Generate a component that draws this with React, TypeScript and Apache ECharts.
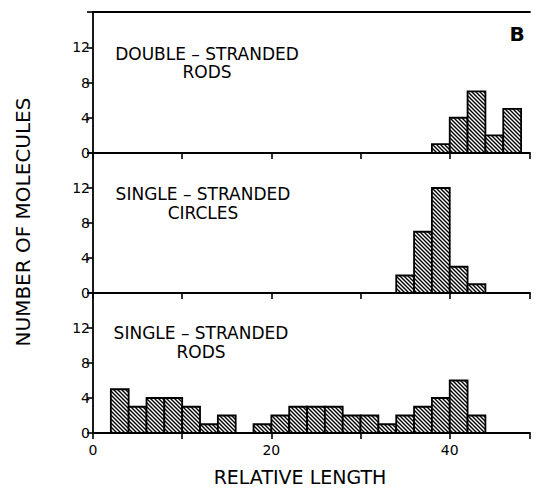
import React, { useEffect, useRef } from "react";
import * as echarts from "echarts";

// ---- Data (bin starts in relative length units, bin width 2) ----
const binWidth = 2;
const dsRodsStarts = [38, 40, 42, 44, 46];
const dsRodsCounts = [1, 4, 7, 2, 5];
const ssCirclesStarts = [34, 36, 38, 40, 42];
const ssCirclesCounts = [2, 7, 12, 3, 1];
const ssRodsStarts = [2, 4, 6, 8, 10, 12, 14, 16, 18, 20, 22, 24, 26, 28, 30, 32, 34, 36, 38, 40, 42];
const ssRodsCounts = [5, 3, 4, 4, 3, 1, 2, 0, 1, 2, 3, 3, 3, 2, 2, 1, 2, 3, 4, 6, 2];
const xTicks = [0, 20, 40];
const yTickLabels = [0, 4, 8, 12];
const panelTitleLine1 = ["DOUBLE – STRANDED", "SINGLE – STRANDED", "SINGLE – STRANDED"];
const panelTitleLine2 = ["RODS", "CIRCLES", "RODS"];

const FONT = "DejaVu Sans";

function makeHatch() {
  const c = document.createElement("canvas");
  const s = 4;
  c.width = s;
  c.height = s;
  const ctx = c.getContext("2d")!;
  ctx.fillStyle = "#fff";
  ctx.fillRect(0, 0, s, s);
  ctx.strokeStyle = "#000";
  ctx.lineWidth = 1.4;
  ctx.beginPath();
  ctx.moveTo(-1, -1);
  ctx.lineTo(s + 1, s + 1);
  ctx.moveTo(-1, s - 1);
  ctx.lineTo(1, s + 1);
  ctx.moveTo(s - 1, -1);
  ctx.lineTo(s + 1, 1);
  ctx.stroke();
  return c;
}

export default function App() {
  const ref = useRef<HTMLDivElement>(null);
  useEffect(() => {
    if (!ref.current) return;
    const chart = echarts.init(ref.current, null, { renderer: "svg" });
    const hatch = makeHatch();
    const pattern: any = { type: "pattern", image: hatch, repeat: "repeat" };

    const grids = [
      { left: 93, top: 12, width: 437, height: 141 },
      { left: 93, top: 153, width: 437, height: 140 },
      { left: 93, top: 293, width: 437, height: 140 },
    ];

    const mkX = (i: number) => ({
      type: "value",
      gridIndex: i,
      min: 0,
      max: 49,
      interval: 10,
      axisLine: { show: true, onZero: false, lineStyle: { color: "#000", width: 1.8 } },
      axisTick: { show: true, inside: false, length: 6, lineStyle: { color: "#000", width: 1.6 } },
      axisLabel: {
        show: i === 2,
        margin: 10,
        color: "#000",
        fontFamily: FONT,
        fontSize: 14,
        formatter: (v: number) => (xTicks.includes(v) ? String(v) : ""),
      },
      splitLine: { show: false },
    });

    const mkY = (i: number) => ({
      type: "value",
      gridIndex: i,
      min: 0,
      max: 16,
      interval: 4,
      axisLine: { show: true, lineStyle: { color: "#000", width: 1.8 } },
      axisTick: { show: true, inside: false, length: 6, lineStyle: { color: "#000", width: 1.6 } },
      axisLabel: {
        margin: 3,
        color: "#000",
        fontFamily: FONT,
        fontSize: 14,
        formatter: (v: number) => (yTickLabels.includes(v) ? String(v) : ""),
      },
      splitLine: { show: false },
    });

    const mkSeries = (i: number, starts: number[], counts: number[]) => ({
      type: "custom",
      xAxisIndex: i,
      yAxisIndex: i,
      encode: { x: [0, 1], y: 2 },
      data: starts.map((s, k) => [s, s + binWidth, counts[k]]),
      renderItem: (params: any, api: any) => {
        const x0 = api.value(0);
        const x1 = api.value(1);
        const v = api.value(2);
        if (!v) return null;
        const p0 = api.coord([x0, v]);
        const p1 = api.coord([x1, 0]);
        return {
          type: "rect",
          shape: { x: p0[0], y: p0[1], width: p1[0] - p0[0], height: p1[1] - p0[1] },
          style: { fill: pattern, stroke: "#000", lineWidth: 1.8 },
        };
      },
    });

    const titleX = [207, 203, 201];
    const line1Y = [53.5, 193.5, 333];
    const line2Y = [72, 213, 352];

    const textStyle = (t: string, size: number, extra: any = {}) => ({
      text: t,
      fill: "#000",
      fontFamily: FONT,
      fontSize: size,
      align: "center",
      verticalAlign: "middle",
      ...extra,
    });

    chart.setOption({
      animation: false,
      backgroundColor: "#fff",
      grid: grids,
      xAxis: [
        mkX(0),
        mkX(1),
        mkX(2),
        {
          type: "value",
          gridIndex: 0,
          position: "top",
          min: 0,
          max: 49,
          axisLine: { show: true, onZero: false, lineStyle: { color: "#000", width: 1.8 } },
          axisTick: { show: false },
          axisLabel: { show: false },
          splitLine: { show: false },
        },
      ],
      yAxis: [mkY(0), mkY(1), mkY(2)],
      series: [
        mkSeries(0, dsRodsStarts, dsRodsCounts),
        mkSeries(1, ssCirclesStarts, ssCirclesCounts),
        mkSeries(2, ssRodsStarts, ssRodsCounts),
      ],
      graphic: [
        ...panelTitleLine1.map((t, i) => ({
          type: "text",
          x: titleX[i],
          y: line1Y[i],
          style: textStyle(t, 17),
        })),
        ...panelTitleLine2.map((t, i) => ({
          type: "text",
          x: titleX[i],
          y: line2Y[i],
          style: textStyle(t, 17),
        })),
        {
          type: "text",
          x: 517,
          y: 34,
          style: textStyle("B", 20, { fontWeight: "bold" }),
        },
        {
          type: "text",
          x: 23,
          y: 222,
          rotation: Math.PI / 2,
          style: textStyle("NUMBER OF MOLECULES", 20),
        },
        {
          type: "text",
          x: 300,
          y: 477,
          style: textStyle("RELATIVE LENGTH", 19),
        },
      ],
    });
    return () => chart.dispose();
  }, []);
  return (
    <div
      ref={ref}
      style={{ position: "fixed", left: 0, top: 0, width: 535, height: 490, background: "#fff" }}
    />
  );
}
